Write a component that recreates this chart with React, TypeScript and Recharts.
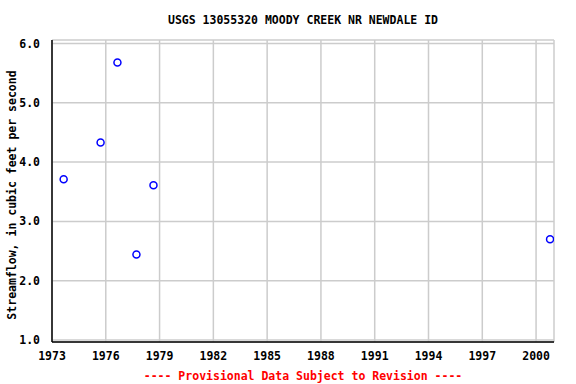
import React from "react";
import { ScatterChart, Scatter, XAxis, YAxis, CartesianGrid } from "recharts";

const years = [1973.65, 1975.71, 1976.65, 1977.71, 1978.66, 2000.78];
const flows = [3.71, 4.33, 5.68, 2.44, 3.61, 2.7];
const xTicks = [1973, 1976, 1979, 1982, 1985, 1988, 1991, 1994, 1997, 2000];
const yTicks = [1, 2, 3, 4, 5, 6];

const data = years.map((y, i) => ({ year: y, flow: flows[i] }));

const font = "'DejaVu Sans Mono', monospace";
const tickStyle = { fontFamily: font, fontSize: 11.5, fontWeight: "bold", fill: "#000" };

const Dot = (props: any) => (
  <circle cx={props.cx} cy={props.cy} r={3.5} fill="none" stroke="#0000ff" strokeWidth={1.5} />
);

export default function App() {
  return (
    <div style={{ position: "absolute", left: 0, top: 0, width: 576, height: 384, background: "#fff" }}>
      <ScatterChart width={576} height={384} margin={{ top: 40, right: 22, bottom: 0, left: 8 }}>
        <text x={303} y={24} textAnchor="middle" style={tickStyle}>
          USGS 13055320 MOODY CREEK NR NEWDALE ID
        </text>
        <text
          x={16}
          y={195}
          textAnchor="middle"
          transform="rotate(-90 16 195)"
          style={tickStyle}
        >
          Streamflow, in cubic feet per second
        </text>
        <text x={303} y={380} textAnchor="middle" style={{ ...tickStyle, fill: "#ff0000" }}>
          ---- Provisional Data Subject to Revision ----
        </text>
        <CartesianGrid stroke="#cccccc" strokeWidth={1.5} verticalPoints={undefined} />
        <XAxis
          type="number"
          dataKey="year"
          domain={[1973, 2001]}
          ticks={xTicks}
          tickLine={false}
          axisLine={{ stroke: "#000", strokeWidth: 1.5 }}
          tick={tickStyle}
          tickMargin={4}
          height={42}
          allowDataOverflow
        />
        <XAxis
          xAxisId="top"
          orientation="top"
          type="number"
          domain={[1973, 2001]}
          tick={false}
          tickLine={false}
          axisLine={{ stroke: "#000", strokeWidth: 1.5 }}
          height={0}
        />
        <YAxis
          type="number"
          dataKey="flow"
          domain={[0.965, 6.06]}
          ticks={yTicks}
          tickFormatter={(v: number) => v.toFixed(1)}
          tickLine={false}
          axisLine={{ stroke: "#000", strokeWidth: 1.5 }}
          tick={tickStyle}
          tickMargin={6}
          width={44}
          allowDataOverflow
        />
        <YAxis
          yAxisId="right"
          orientation="right"
          type="number"
          domain={[0.965, 6.06]}
          tick={false}
          tickLine={false}
          axisLine={{ stroke: "#000", strokeWidth: 1.5 }}
          width={0}
        />
        <Scatter data={data} shape={<Dot />} isAnimationActive={false} />
      </ScatterChart>
    </div>
  );
}
